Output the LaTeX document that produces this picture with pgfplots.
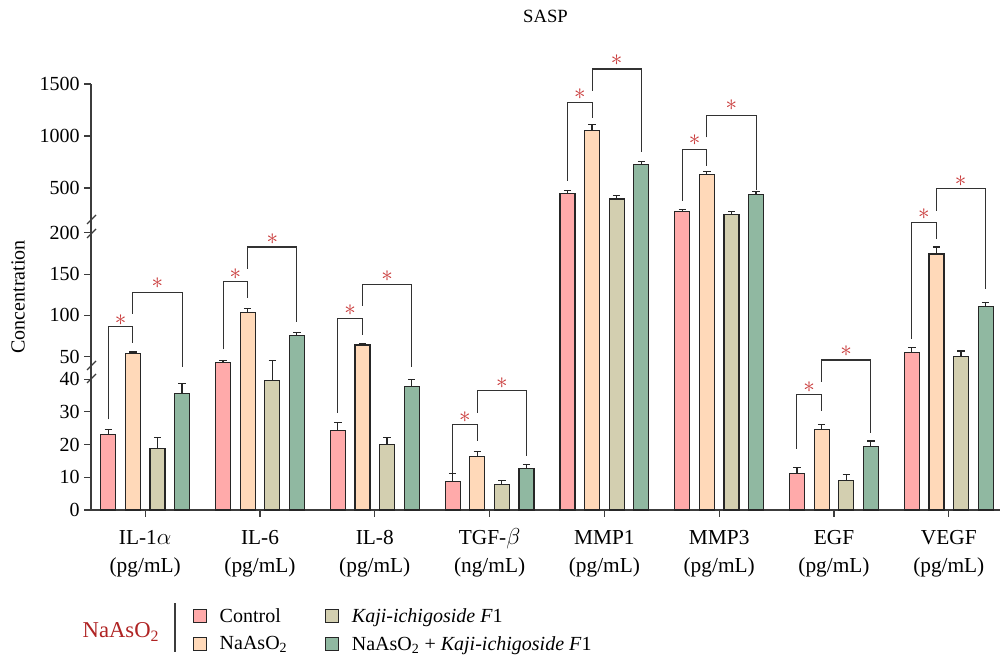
\documentclass[border=0pt]{standalone}
\usepackage{fontspec}
\setmainfont{Liberation Serif}
\usepackage{pgfplots}
\pgfplotsset{compat=1.18}
\usepackage{pgfplotstable}

\definecolor{cC}{RGB}{255,170,170}
\definecolor{cN}{RGB}{255,217,185}
\definecolor{cK}{RGB}{211,207,176}
\definecolor{cG}{RGB}{144,184,161}
\definecolor{axgray}{RGB}{60,60,60}
\definecolor{brk}{RGB}{50,50,50}
\definecolor{starred}{RGB}{200,55,55}
\definecolor{labred}{RGB}{175,35,35}

% x: group index, y: value, e: error (SD)
\pgfplotstableread{
x y e
0 23.1 1.4
1 42.7 2.5
2 24.2 2.6
3 8.8 2.3
4 451 25
5 275 20
6 11.2 1.9
7 54.8 6
}\tabC
\pgfplotstableread{
x y e
0 53.6 2
1 103.2 4.8
2 64.2 2
3 16.4 1.6
4 1052 56
5 630 27
6 24.5 1.7
7 174.2 8.5
}\tabN
\pgfplotstableread{
x y e
0 18.9 3.2
1 39.5 5.9
2 20.1 2
3 7.8 1.3
4 395 35
5 248 25
6 9.0 1.9
7 50 6.9
}\tabK
\pgfplotstableread{
x y e
0 35.6 3
1 75.9 3
2 37.8 2.1
3 12.6 1.4
4 728 27
5 441 25
6 19.4 1.7
7 110.5 4.8
}\tabG

% broken y axis: piecewise-linear scale (0-42 | 42-220 | >220)
\tikzset{declare function={brkf(\v)=(\v<=42) ? 3.27*\v : ((\v<=220) ? 153.3+0.8267*(\v-50) : 322+0.104*(\v-500));}}

\newcommand{\fs}{\fontsize{15}{21.5}\selectfont}
\newcommand{\fx}{\fontsize{16}{21.5}\selectfont}
\newcommand{\sv}{\vphantom{$\beta$}}
% bracket in pixel coords: xL yLstart xR yRend ytop ystar
\newcommand{\brk}[6]{%
  \draw[brk, line width=0.85pt] (#1,#2) -- (#1,#5) -- (#3,#5) -- (#3,#4);
  \node[text=starred, font=\fontsize{18}{18}\selectfont, inner sep=0pt] at ({(#1+#3)/2},#6) {$\ast$};}

\pgfplotsset{
  errb/.style={
    /pgfplots/error bars/y dir=plus,
    /pgfplots/error bars/y explicit,
    /pgfplots/error bars/error bar style={line width=0.9pt, black!85},
    /pgfplots/error bars/error mark options={rotate=90, mark size=2.8pt, line width=0.9pt, black!85}},
}

\begin{document}
\begin{tikzpicture}
\begin{scope}[x=0.75pt,y=-0.75pt,shift={(-68.25pt,382.5pt)}]
\useasboundingbox (0,0) rectangle (1001,661);
\end{scope}
\begin{axis}[
  at={(0,0)}, anchor=south west,
  scale only axis, width=681.75pt, height=319.5pt,
  xmin=-0.472, xmax=7.446, ymin=0, ymax=1500,
  y coord trafo/.code={\pgfmathparse{brkf(#1)}},
  ytick={0,10,20,30,40,50,100,150,200,500,1000,1500},
  yticklabels={0,10,20,30,40,50,100,150,200,500,1000,1500},
  xtick={0,1,2,3,4,5,6,7},
  xticklabels={{\sv IL-1$\alpha$\\(pg/mL)},{\sv IL-6\\(pg/mL)},{\sv IL-8\\(pg/mL)},{\sv TGF-$\beta$\\(ng/mL)},{\sv MMP1\\(pg/mL)},{\sv MMP3\\(pg/mL)},{\sv EGF\\(pg/mL)},{\sv VEGF\\(pg/mL)}},
  xticklabel style={align=center, font=\fx, anchor=north, yshift=-5pt},
  yticklabel style={font=\fs},
  /pgf/number format/assume math mode=true,
  axis lines=left, axis line style={-, axgray, line width=0.8pt},
  tick align=outside, major tick length=5pt,
  tick style={axgray, line width=0.8pt},
  ybar=7.2pt, bar width=11.25pt,
  ylabel={Concentration},
  ylabel style={at={(axis description cs:-0.0803,0.5)}, anchor=center, font=\fs},
  title={SASP},
  title style={at={(axis description cs:0.5,1)}, anchor=center, yshift=44.5pt, font=\fontsize{14}{16}\selectfont},
  legend columns=2, transpose legend,
  legend cell align=left,
  legend style={at={(axis description cs:0.107,-0.218)}, anchor=north west, draw=none, fill=none,
    font=\fs, row sep=5pt, nodes={inner sep=2pt},
    /tikz/every odd column/.append style={column sep=7.8pt},
    /tikz/every even column/.append style={column sep=26pt}},
  legend image code/.code={\draw[#1,/tikz/.cd,line width=0.8pt] (0pt,-4.9pt) rectangle (9.8pt,4.9pt);},
]
\addplot[fill=cC, draw=black!85, line width=0.9pt, errb] table[x=x,y=y,y error expr={brkf(\thisrow{y}+\thisrow{e})-brkf(\thisrow{y})}]{\tabC};
\addplot[fill=cN, draw=black!85, line width=0.9pt, errb] table[x=x,y=y,y error expr={brkf(\thisrow{y}+\thisrow{e})-brkf(\thisrow{y})}]{\tabN};
\addplot[fill=cK, draw=black!85, line width=0.9pt, errb] table[x=x,y=y,y error expr={brkf(\thisrow{y}+\thisrow{e})-brkf(\thisrow{y})}]{\tabK};
\addplot[fill=cG, draw=black!85, line width=0.9pt, errb] table[x=x,y=y,y error expr={brkf(\thisrow{y}+\thisrow{e})-brkf(\thisrow{y})}]{\tabG};
\legend{Control, NaAsO\textsubscript{2}, \textit{Kaji-ichigoside F}1, NaAsO\textsubscript{2} + \textit{Kaji-ichigoside F}1}
\end{axis}
\begin{scope}[x=0.75pt,y=-0.75pt,shift={(-68.25pt,382.5pt)}]
% axis break marks
\draw[axgray, line width=0.8pt] (87,224)--(96,215) (87,238)--(96,229);
\draw[axgray, line width=0.8pt] (87,370)--(96,361) (87,383)--(96,374);
% significance brackets (pixel coordinates); centres c = 145.2 + 114.8 i
\brk{108.3}{419.3}{132.9}{342.7}{326.7}{320}
\brk{132.9}{314}{182.1}{367.3}{292.7}{283.3}
\brk{223.1}{349.3}{247.7}{297.7}{281.7}{274.3}
\brk{247.7}{269}{296.9}{322.3}{247}{239}
\brk{337.9}{412.7}{362.5}{335}{318.3}{310}
\brk{362.5}{306}{411.7}{367.3}{284.3}{276}
\brk{452.7}{473.3}{477.3}{441}{424.3}{416.7}
\brk{477.3}{412.7}{526.5}{455.7}{390.7}{382.7}
\brk{567.5}{181}{592.1}{118.3}{102.7}{94.3}
\brk{592.1}{90.7}{641.3}{151.7}{69}{60}
\brk{682.3}{201}{706.9}{165.7}{149.3}{140}
\brk{706.9}{137.3}{756.1}{190}{115.3}{105}
\brk{796.9}{448.7}{821.5}{410.7}{394.3}{386.7}
\brk{821.5}{381.7}{870.7}{433.3}{360}{350.7}
\brk{911.5}{339}{936.1}{239.3}{222.3}{214.3}
\brk{936.1}{210.7}{985.3}{289.3}{188.7}{180.7}
% legend group label
\node[text=labred, font=\fontsize{17}{20}\selectfont] at (121,632) {NaAsO\textsubscript{2}};
\draw[axgray, line width=0.8pt] (175,603)--(175,652);
\end{scope}
\end{tikzpicture}
\end{document}
